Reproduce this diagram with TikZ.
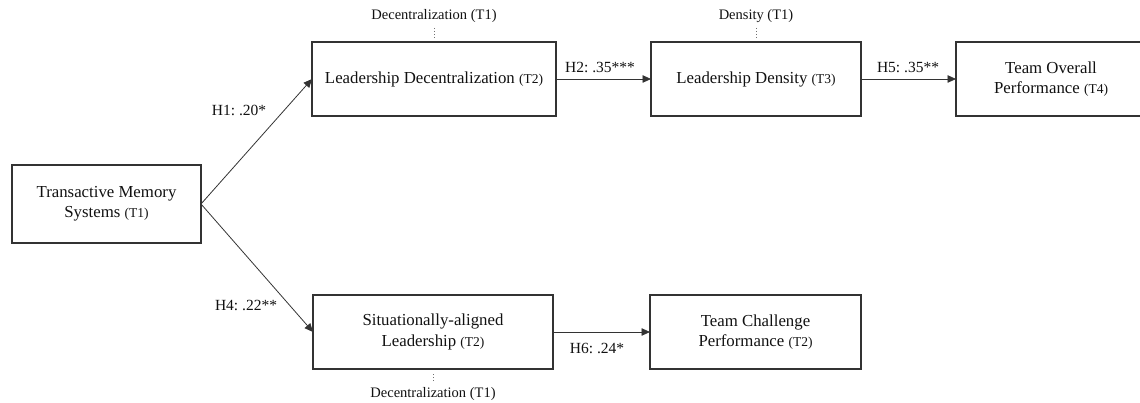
\documentclass[tikz,border=0pt]{standalone}
\usepackage{fontspec}
\setmainfont{Liberation Serif}
\usetikzlibrary{arrows.meta}
\definecolor{ink}{HTML}{111111}
\definecolor{edge}{HTML}{333333}
\newcommand{\timept}[1]{{\fontsize{13.5}{15}\selectfont #1}}
\tikzset{
  x=1pt, y=-1pt,
  box/.style={draw=edge, line width=1.1pt, inner sep=0pt, outer sep=0pt,
    align=center, text=ink, font=\fontsize{16.8}{20.5}\selectfont},
  path/.style={draw=edge, line width=0.8pt,
    -{Triangle[length=8.5pt,width=7.5pt]}},
  coef/.style={text=ink, inner sep=0pt, font=\fontsize{15.5}{17}\selectfont},
  ctrl/.style={text=ink, inner sep=0pt, font=\fontsize{14.5}{16}\selectfont},
  ctrlline/.style={draw=edge!70, line width=0.6pt, dash pattern=on 1.5pt off 1.5pt}
}
\frenchspacing
\begin{document}
\begin{tikzpicture}
\useasboundingbox (0,0) rectangle (1140,403);
\clip (0,0) rectangle (1140,403);

% constructs
\node[box, minimum width=189pt, minimum height=78pt] (tms) at (106.5,204)
  {Transactive Memory\\Systems \timept{(T1)}};
\node[box, minimum width=244pt, minimum height=74pt] (ld) at (434,79)
  {Leadership Decentralization \timept{(T2)}};
\node[box, minimum width=210pt, minimum height=74pt] (dens) at (756,79)
  {Leadership Density \timept{(T3)}};
\node[box, minimum width=190pt, minimum height=74pt] (top) at (1051,79)
  {Team Overall\\Performance \timept{(T4)}};
\node[box, minimum width=240pt, minimum height=74pt] (sal) at (433,332)
  {Situationally-aligned\\Leadership \timept{(T2)}};
\node[box, minimum width=211pt, minimum height=74pt] (tcp) at (755.5,332)
  {Team Challenge\\Performance \timept{(T2)}};

% control variables
\node[ctrl] (c1) at (434,16) {Decentralization (T1)};
\node[ctrl] (c2) at (756,16) {Density (T1)};
\node[ctrl] (c3) at (433,394) {Decentralization (T1)};
\draw[ctrlline, shorten <=5pt, shorten >=5pt] (c1.south) -- (ld.north);
\draw[ctrlline, shorten <=5pt, shorten >=5pt] (c2.south) -- (dens.north);
\draw[ctrlline, shorten <=6pt, shorten >=5pt] (c3.north) -- (sal.south);

% hypothesised paths
\draw[path] (tms.east) -- (ld.west);
\draw[path] (tms.east) -- (sal.west);
\draw[path] (ld.east) -- (dens.west);
\draw[path] (dens.east) -- (top.west);
\draw[path] (sal.east) -- (tcp.west);

% path coefficients
\node[coef] (h1) at (239,110) {H1: .20*};
\node[coef] (h4) at (246,305) {H4: .22**};
\node[coef] (h2) at (600,67) {H2: .35***};
\node[coef] (h5) at (908,67) {H5: .35**};
\node[coef] (h6) at (597,348) {H6: .24*};
\end{tikzpicture}
\end{document}
